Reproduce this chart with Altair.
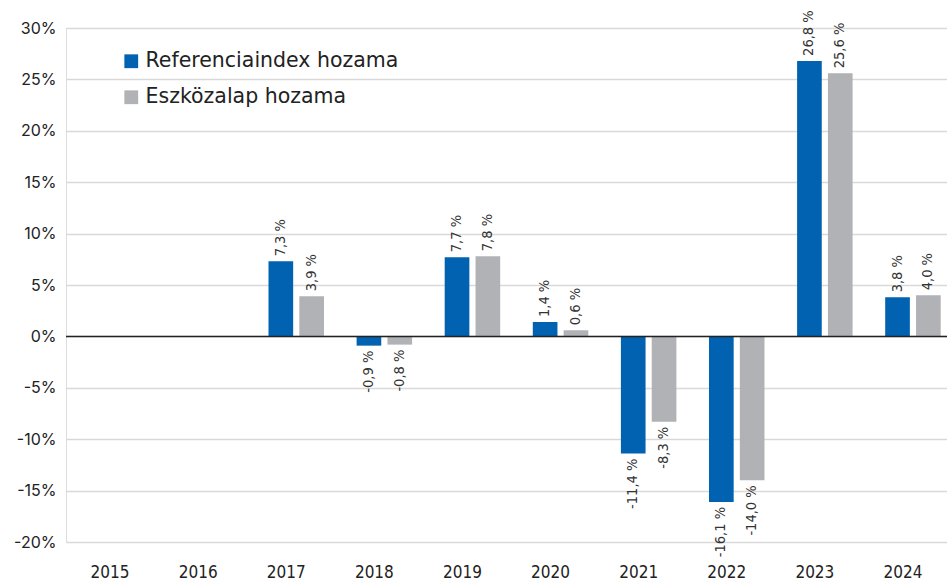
import altair as alt
import pandas as pd

years = ["2015", "2016", "2017", "2018", "2019", "2020", "2021", "2022", "2023", "2024"]
series = ["Referenciaindex hozama", "Eszközalap hozama"]
ref_values = [None, None, 7.3, -0.9, 7.7, 1.4, -11.4, -16.1, 26.8, 3.8]
fund_values = [None, None, 3.9, -0.8, 7.8, 0.6, -8.3, -14.0, 25.6, 4.0]
colors = ["#0062B0", "#B1B2B6"]
y_ticks = [-20, -15, -10, -5, 0, 5, 10, 15, 20, 25, 30]

rows = []
for yr, a, b in zip(years, ref_values, fund_values):
    for s, v in zip(series, (a, b)):
        if v is not None:
            rows.append({"year": yr, "series": s, "value": v,
                         "label": f"{v:.1f}".replace(".", ",") + " %"})
df = pd.DataFrame(rows)

narrow = "Liberation Sans Narrow, DejaVu Sans Condensed, sans-serif"
geo = "Inter, Lato, sans-serif"
wide = "DejaVu Sans"

x_enc = alt.X("year:N",
              scale=alt.Scale(domain=years, paddingInner=0.37, paddingOuter=0.185),
              axis=alt.Axis(title=None, labelAngle=0, ticks=False, domain=False,
                            labelPadding=22, labelFont=narrow, labelFontSize=17,
                            labelColor="#222222", grid=False))
xo_enc = alt.XOffset("series:N", sort=series,
                     scale=alt.Scale(domain=series, paddingInner=0.2, range=[10, 65.5]))
y_enc = alt.Y("value:Q",
              scale=alt.Scale(domain=[-20, 30], nice=False, zero=True),
              axis=alt.Axis(title=None, values=y_ticks, labelExpr="datum.value + '%'",
                            domain=False, ticks=False, labelPadding=10,
                            labelFont=geo, labelFontSize=16, labelColor="#222222",
                            gridColor="#d9d9d9", gridWidth=1.5))

base = alt.Chart(df)

bars = base.mark_bar().encode(
    x=x_enc, xOffset=xo_enc, y=y_enc,
    color=alt.Color("series:N", sort=series,
                    scale=alt.Scale(domain=series, range=colors),
                    legend=alt.Legend(title=None, orient="none", legendX=55, legendY=23,
                                      symbolType="square", symbolSize=190,
                                      symbolStrokeWidth=0, labelFont=wide,
                                      labelFontSize=20.5, labelColor="#222222",
                                      labelLimit=0, rowPadding=15, labelOffset=4)),
)

pos_text = base.transform_filter("datum.value >= 0").mark_text(
    angle=270, align="left", baseline="middle", dx=5,
    font=narrow, fontSize=14.5, color="#333333"
).encode(x=x_enc, xOffset=xo_enc, y=y_enc, text="label:N")

neg_text = base.transform_filter("datum.value < 0").mark_text(
    angle=270, align="right", baseline="middle", dx=-5,
    font=narrow, fontSize=14.5, color="#333333"
).encode(x=x_enc, xOffset=xo_enc, y=y_enc, text="label:N")

zero_rule = alt.Chart(pd.DataFrame({"z": [0]})).mark_rule(
    color="#222222", strokeWidth=1.5
).encode(y=alt.Y("z:Q"))

chart = alt.layer(bars, pos_text, neg_text, zero_rule).properties(
    width=881, height=514,
    padding={"left": 66, "top": 28, "right": 0, "bottom": 41},
    autosize=alt.AutoSizeParams(type="none"),
).configure_view(stroke=None).configure(background="white")

chart.save("out.html", embed_options={"renderer": "svg", "actions": False})
